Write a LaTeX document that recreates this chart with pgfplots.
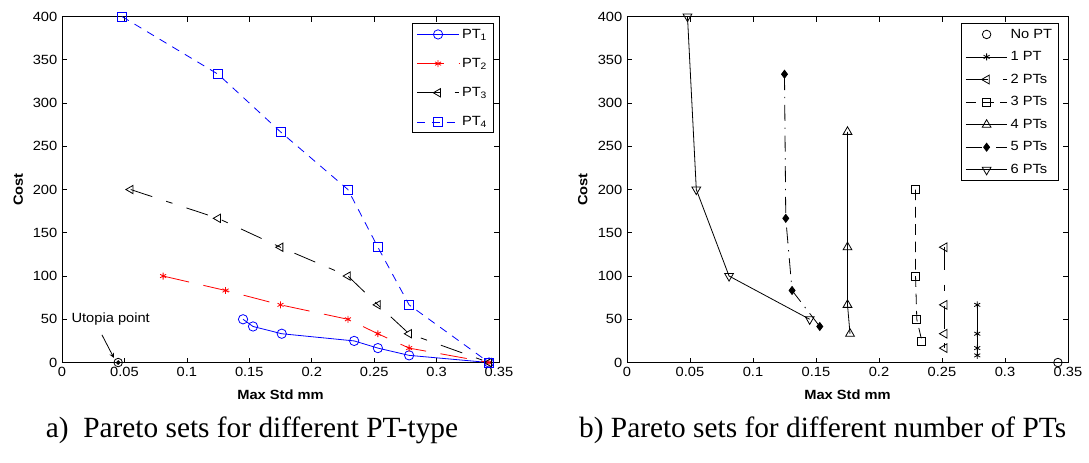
\documentclass[border=0pt]{standalone}
\usepackage{fontspec}
\setmainfont{Liberation Sans}
\newfontfamily\chartfont{Liberation Sans}[FakeStretch=1.1]
\newfontfamily\capfont{Liberation Serif}
\usepackage{pgfplots}
\pgfplotsset{compat=1.18}

\pgfplotsset{
  longlegend/.style={legend image code/.code={
      \draw[mark repeat=2, mark phase=2, ##1]
        plot coordinates {(0cm,0cm) (0.55cm,0cm) (1.1cm,0cm)};}},
  marklegend/.style={legend image code/.code={
      \draw[##1] plot coordinates {(0.55cm,0cm)};}},
  pareto/.style={
    scale only axis, anchor=south west,
    height=259.5pt,
    xmin=0, xmax=0.35, ymin=0, ymax=400,
    xtick={0,0.05,0.1,0.15,0.2,0.25,0.3,0.35},
    ytick={0,50,100,150,200,250,300,350,400},
    xticklabel style={/pgf/number format/fixed, /pgf/number format/precision=2},
    /pgf/number format/assume math mode=true,
    tick label style={font=\chartfont\fontsize{10}{12}\selectfont},
    label style={font=\chartfont\bfseries\fontsize{10}{12}\selectfont},
    xlabel={Max Std mm}, ylabel={Cost},
    xlabel style={at={(axis description cs:0.5,-0.094)}, anchor=center},
    ylabel style={at={(axis description cs:-0.1,0.5)}, anchor=center},
    axis line style={line width=0.6pt},
    major tick style={line width=0.5pt, black},
    major tick length=3.75pt,
    clip=false,
    every axis plot/.append style={line width=0.6pt},
    legend cell align=left,
    legend style={draw=black, line width=0.6pt, font=\chartfont\fontsize{10}{12}\selectfont},
    longlegend,
  },
}

\begin{document}
\begin{tikzpicture}
\useasboundingbox (0pt,0pt) rectangle (816.75pt,346.5pt);

% a) Pareto sets for different PT-type
\begin{axis}[pareto, at={(46.5pt,74.6pt)}, width=327.75pt,
  legend style={at={(0.989,0.981)}, anchor=north east, row sep=9.5pt}]
\addplot[blue, mark=o, mark size=3.5pt, mark options={solid}]
  coordinates {(0.145,50) (0.153,41.7) (0.176,33.3) (0.234,25) (0.253,16.7) (0.278,8.3) (0.342,0)};
\addlegendentry{PT\textsubscript{1}}
\addplot[red, mark=asterisk, mark size=2.6pt, mark options={solid}, dash pattern=on 20pt off 11pt]
  coordinates {(0.081,100) (0.131,83.3) (0.175,66.7) (0.229,50) (0.253,33.3) (0.278,16.7) (0.342,0)};
\addlegendentry{PT\textsubscript{2}}
\addplot[black, mark=triangle, mark size=3.6pt, mark options={solid, rotate=90},
  dash pattern=on 17pt off 11pt on 5pt off 11pt]
  coordinates {(0.055,200) (0.125,166.7) (0.175,133.3) (0.229,100) (0.253,66.7) (0.278,33.3) (0.342,0)};
\addlegendentry{PT\textsubscript{3}}
\addplot[blue, mark=square, mark size=3.4pt, mark options={solid}, dash pattern=on 6pt off 5pt]
  coordinates {(0.048,400) (0.125,333.3) (0.175,266.7) (0.229,200) (0.253,133.3) (0.278,66.7) (0.342,0)};
\addlegendentry{PT\textsubscript{4}}
% utopia point
\addplot[black, only marks, mark=o, mark size=3.2pt, forget plot] coordinates {(0.045,0)};
\addplot[black, only marks, mark=*, mark size=1.4pt, forget plot] coordinates {(0.045,0)};
\node[font=\chartfont\fontsize{10}{12}\selectfont] at (axis cs:0.039,50.3) {Utopia point};
\draw[-stealth, line width=0.6pt] (axis cs:0.032,32) -- (axis cs:0.0415,5.5);
\end{axis}

% b) Pareto sets for different number of PTs
\begin{axis}[pareto, at={(470.25pt,74.6pt)}, width=330.75pt,
  legend style={at={(0.98,0.981)}, anchor=north east, row sep=4.5pt}]
\addplot[black, only marks, mark=o, mark size=3.2pt, marklegend]
  coordinates {(0.342,0)};
\addlegendentry{No PT}
\addplot[black, mark=asterisk, mark size=2.6pt, mark options={solid}]
  coordinates {(0.278,66.7) (0.278,33.3) (0.278,16.7) (0.278,8.3)};
\addlegendentry{1 PT}
\addplot[black, mark=triangle, mark size=3.8pt, mark options={solid, rotate=90},
  dash pattern=on 17pt off 11pt on 5pt off 11pt]
  coordinates {(0.252,133.3) (0.252,66.7) (0.252,33.3) (0.252,16.7)};
\addlegendentry{2 PTs}
\addplot[black, mark=square, mark size=3pt, mark options={solid}, dash pattern=on 8pt off 5pt]
  coordinates {(0.229,200) (0.229,100) (0.230,50) (0.234,25)};
\addlegendentry{3 PTs}
\addplot[black, mark=triangle, mark size=3.8pt, mark options={solid}]
  coordinates {(0.175,266.7) (0.175,133.3) (0.175,66.7) (0.177,33.3)};
\addlegendentry{4 PTs}
\addplot[black, mark=diamond*, mark size=3pt, mark options={solid},
  dash pattern=on 12pt off 5pt on 1pt off 5pt]
  coordinates {(0.125,333.3) (0.126,166.7) (0.131,83.3) (0.153,41.7)};
\addlegendentry{5 PTs}
\addplot[black, mark=triangle, mark size=3.8pt, mark options={solid, rotate=180}]
  coordinates {(0.048,400) (0.055,200) (0.081,100) (0.145,50)};
\addlegendentry{6 PTs}
\end{axis}

\node[font=\capfont\fontsize{22}{25}\selectfont] at (189pt,24pt) {a)\ \ Pareto sets for different PT-type};
\node[font=\capfont\fontsize{22}{25}\selectfont] at (617pt,24pt) {b) Pareto sets for different number of PTs};
\end{tikzpicture}
\end{document}
